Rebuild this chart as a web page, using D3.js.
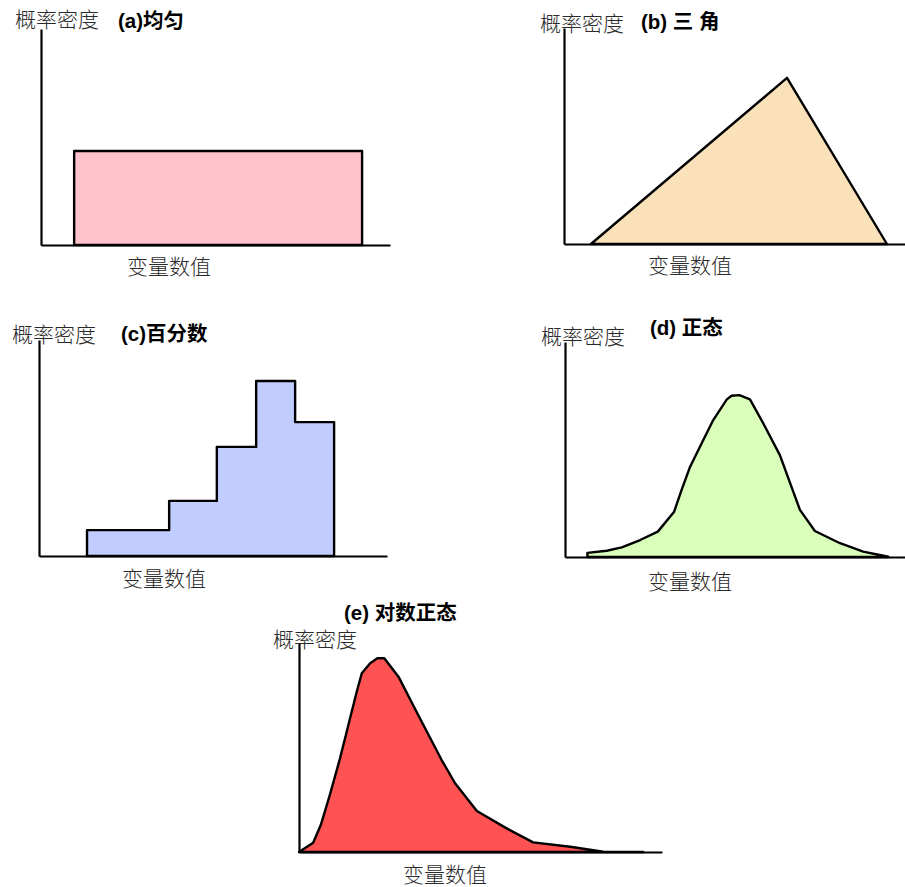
<!DOCTYPE html>
<html>
<head>
<meta charset="utf-8">
<script src="https://cdn.jsdelivr.net/npm/d3@7"></script>
<style>
  html, body { margin: 0; padding: 0; background: #fff; }
  svg { display: block; }
  .lbl { font-family: "Noto Sans CJK SC", sans-serif; font-size: 21px; fill: #2a2a2a; font-weight: 300; }
  .ttl { font-family: "Liberation Sans", Arial, "Noto Sans CJK SC", sans-serif; font-size: 20.5px; font-weight: bold; fill: #000; }
</style>
</head>
<body>
<script>
// Five probability-density shapes; x and y both in 0–100 units of each panel's axes.

// (a) uniform: start, end, height
const uniformX = [9.5, 92.0];
const uniformY = 43.5;

// (b) triangle: left foot, peak, right foot
const triangleX = [7.9, 65.4, 94.7];
const triangleY = [0, 76.9, 0];

// (c) percentile histogram: bin edges and bin heights
const percentileEdges = [13.8, 37.4, 51.1, 62.4, 73.6, 84.8];
const percentileHeights = [12.0, 25.5, 50.5, 81.0, 62.0];

// (d) normal curve
const normalX = [6.6, 12.3, 16.7, 22.1, 27.3, 32.1, 34.3, 36.8, 40.2, 43.6, 47.6, 49.0, 51.3, 54.4, 58.3, 63.2, 69.1, 73.5, 80.9, 87.7, 95.1];
const normalY = [1.9, 2.9, 4.5, 7.9, 11.8, 21.1, 31.2, 42.0, 52.9, 63.7, 73.3, 75.0, 75.3, 73.3, 62.2, 47.4, 21.9, 12.1, 6.4, 2.5, 0.1];

// (e) lognormal curve
const lognormalX = [0, 3.9, 6.0, 8.5, 11.3, 13.6, 15.9, 17.3, 19.6, 21.6, 23.5, 27.4, 33.3, 39.3, 43.0, 49.0, 57.2, 64.5, 74.7, 83.8, 94.8];
const lognormalY = [0, 4.4, 12.9, 27.3, 44.8, 60.8, 76.7, 85.5, 90.3, 92.7, 92.7, 83.9, 64.0, 44.0, 32.9, 19.6, 11.3, 4.6, 2.5, 0.1, 0];

const titles = ["(a)均匀", "(b) 三 角", "(c)百分数", "(d) 正态", "(e) 对数正态"];
const yLabel = "概率密度";
const xLabel = "变量数值";
const fills = ["#ffc2cd", "#fae1b9", "#c2cdff", "#d9ffba", "#ff5252"];

const W = 905, H = 887;
const svg = d3.select("body").append("svg").attr("width", W).attr("height", H);

// panel frames: origin, x-axis end, y-axis top, and label anchors
const panels = [
  { ox: 41,  by: 245, ex: 390, ty: 29,  yl: [15, 27],  tl: [118, 28],  xl: [127, 274] },
  { ox: 564, by: 244, ex: 905, ty: 28,  yl: [540, 31], tl: [641, 29],  xl: [648, 273] },
  { ox: 39,  by: 556, ex: 387, ty: 340, yl: [12, 342], tl: [121, 341], xl: [122, 586] },
  { ox: 565, by: 557, ex: 905, ty: 342, yl: [541, 344],tl: [650, 335], xl: [648, 589] },
  { ox: 299, by: 852, ex: 662, ty: 643, yl: [273, 647],tl: [344, 620], xl: [403, 882] }
];

const areaOf = (pts, x, y) => {
  const line = d3.line().x(d => x(d[0])).y(d => y(d[1]));
  return line(pts) + "Z";
};

panels.forEach((p, i) => {
  const g = svg.append("g");
  const x = d3.scaleLinear().domain([0, 100]).range([p.ox, p.ex]);
  const y = d3.scaleLinear().domain([0, 100]).range([p.by, p.ty]);

  let pts;
  if (i === 0) {
    pts = [[uniformX[0], 0], [uniformX[0], uniformY], [uniformX[1], uniformY], [uniformX[1], 0]];
  } else if (i === 1) {
    pts = triangleX.map((v, k) => [v, triangleY[k]]);
  } else if (i === 2) {
    pts = [[percentileEdges[0], 0]];
    percentileHeights.forEach((h, k) => {
      pts.push([percentileEdges[k], h]);
      pts.push([percentileEdges[k + 1], h]);
    });
    pts.push([percentileEdges[percentileEdges.length - 1], 0]);
  } else if (i === 3) {
    pts = [[normalX[0], 0]].concat(normalX.map((v, k) => [v, normalY[k]]));
    pts.push([normalX[normalX.length - 1], 0]);
  } else {
    pts = lognormalX.map((v, k) => [v, lognormalY[k]]);
  }

  g.append("path")
    .attr("d", areaOf(pts, x, y))
    .attr("fill", fills[i])
    .attr("stroke", "#000")
    .attr("stroke-width", 2.4)
    .attr("stroke-linejoin", "round");

  // axes: bare lines without ticks
  const yAxis = d3.axisLeft(y).tickValues([]).tickSizeOuter(0);
  const xAxis = d3.axisBottom(x).tickValues([]).tickSizeOuter(0);
  g.append("g").attr("transform", `translate(${p.ox},0)`).call(yAxis)
    .select(".domain").attr("stroke", "#000").attr("stroke-width", 2.2);
  g.append("g").attr("transform", `translate(0,${p.by})`).call(xAxis)
    .select(".domain").attr("stroke", "#000").attr("stroke-width", 2.2);

  g.append("text").attr("class", "lbl").attr("x", p.yl[0]).attr("y", p.yl[1]).text(yLabel);
  g.append("text").attr("class", "ttl").attr("x", p.tl[0]).attr("y", p.tl[1]).text(titles[i]);
  g.append("text").attr("class", "lbl").attr("x", p.xl[0]).attr("y", p.xl[1]).text(xLabel);
});
</script>
</body>
</html>
